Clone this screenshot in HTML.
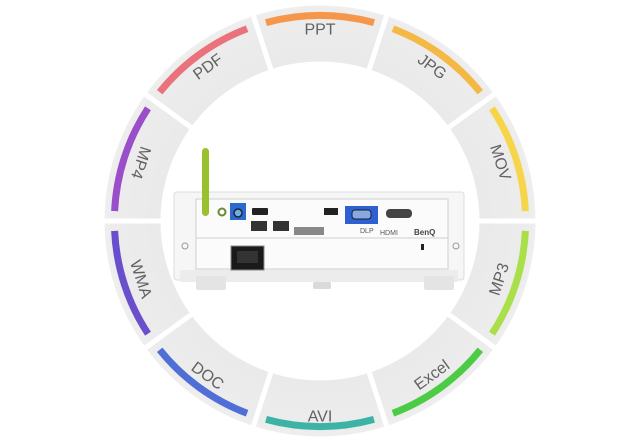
<!DOCTYPE html>
<html><head><meta charset="utf-8"><style>
html,body{margin:0;padding:0;background:#fff;width:640px;height:448px;overflow:hidden}
svg{display:block}
text{font-family:"Liberation Sans",sans-serif;font-size:16px;fill:#626262}
</style></head><body>
<svg width="640" height="448" viewBox="0 0 640 448">
<defs>
<radialGradient id="sg" cx="320" cy="221" r="218" gradientUnits="userSpaceOnUse">
<stop offset="0.72" stop-color="#eaeaea"/><stop offset="0.95" stop-color="#ececec"/><stop offset="1" stop-color="#efefef"/>
</radialGradient>
<g id="seg">
<path d="M271.5,71.7 L252.6,13.7 A218 218 0 0 1 387.4,13.7 L368.5,71.7 A157 157 0 0 0 271.5,71.7Z" fill="url(#sg)" stroke="#fff" stroke-width="5"/>
</g>
<path id="st" d="M270.4,22.6 A205 205 0 0 1 369.6,22.6" fill="none" stroke-width="7"/>
</defs>
<g>
<use href="#seg"/>
<use href="#seg" transform="rotate(36 320 221)"/>
<use href="#seg" transform="rotate(72 320 221)"/>
<use href="#seg" transform="rotate(108 320 221)"/>
<use href="#seg" transform="rotate(144 320 221)"/>
<use href="#seg" transform="rotate(180 320 221)"/>
<use href="#seg" transform="rotate(216 320 221)"/>
<use href="#seg" transform="rotate(252 320 221)"/>
<use href="#seg" transform="rotate(288 320 221)"/>
<use href="#seg" transform="rotate(324 320 221)"/>
</g>
<g fill="none" stroke-width="7">
<path d="M266,22.6 A205 205 0 0 1 374,22.6" stroke="#f5964a"/>
<path d="M266,22.6 A205 205 0 0 1 374,22.6" stroke="#f4b845" transform="rotate(36 320 221)"/>
<path d="M266,22.6 A205 205 0 0 1 374,22.6" stroke="#f7d54a" transform="rotate(72 320 221)"/>
<path d="M266,22.6 A205 205 0 0 1 374,22.6" stroke="#a9e04a" transform="rotate(108 320 221)"/>
<path d="M266,22.6 A205 205 0 0 1 374,22.6" stroke="#4ccb45" transform="rotate(144 320 221)"/>
<path d="M266,22.6 A205 205 0 0 1 374,22.6" stroke="#3db3a6" transform="rotate(180 320 221)"/>
<path d="M266,22.6 A205 205 0 0 1 374,22.6" stroke="#4f6fd6" transform="rotate(216 320 221)"/>
<path d="M266,22.6 A205 205 0 0 1 374,22.6" stroke="#6a4fcd" transform="rotate(252 320 221)"/>
<path d="M266,22.6 A205 205 0 0 1 374,22.6" stroke="#9a4ec9" transform="rotate(288 320 221)"/>
<path d="M266,22.6 A205 205 0 0 1 374,22.6" stroke="#e9727c" transform="rotate(324 320 221)"/>
</g>
<g text-anchor="middle" dominant-baseline="central">
<g transform="rotate(0 320 221)"><text x="320" y="30">PPT</text></g>
<g transform="rotate(36 320 221)"><text x="320" y="31">JPG</text></g>
<g transform="rotate(72 320 221)"><text x="320" y="32">MOV</text></g>
<g transform="rotate(108 320 221)"><text x="320" y="32" transform="rotate(180 320 32)">MP3</text></g>
<g transform="rotate(144 320 221)"><text x="320" y="30" transform="rotate(180 320 30)">Excel</text></g>
<g transform="rotate(180 320 221)"><text x="320" y="25" transform="rotate(180 320 25)">AVI</text></g>
<g transform="rotate(216 320 221)"><text x="320" y="29" transform="rotate(180 320 29)">DOC</text></g>
<g transform="rotate(252 320 221)"><text x="320" y="32" transform="rotate(180 320 32)">WMA</text></g>
<g transform="rotate(288 320 221)"><text x="320" y="32" transform="rotate(180 320 32)">MP4</text></g>
<g transform="rotate(324 320 221)"><text x="320" y="31">PDF</text></g>
</g>
<!-- projector -->
<g>
<rect x="174" y="192" width="290" height="88" rx="3" fill="#f6f6f6" stroke="#dcdcdc"/>
<rect x="196" y="199" width="252" height="70" fill="#fbfbfb" stroke="#cfcfcf"/>
<line x1="196" y1="238" x2="448" y2="238" stroke="#cfcfcf"/>
<rect x="180" y="270" width="278" height="12" fill="#ececec"/>
<rect x="196" y="276" width="30" height="14" rx="2" fill="#e4e4e4"/>
<rect x="424" y="276" width="30" height="14" rx="2" fill="#e4e4e4"/>
<rect x="313" y="282" width="18" height="7" rx="2" fill="#dadada"/>
<circle cx="185" cy="246" r="3" fill="none" stroke="#999"/>
<circle cx="456" cy="246" r="3" fill="none" stroke="#999"/>
<rect x="202" y="148" width="7" height="68" rx="3.5" fill="#9ac030"/>
<circle cx="222" cy="212" r="3.5" fill="#fff" stroke="#6a8a30" stroke-width="2"/>
<rect x="230" y="203" width="16" height="17" fill="#2a6ad0"/>
<circle cx="238" cy="213" r="4" fill="#6ab0e0" stroke="#223" stroke-width="1.5"/>
<rect x="252" y="208" width="16" height="7" rx="1" fill="#222"/>
<rect x="251" y="221" width="16" height="10" fill="#333"/>
<rect x="273" y="221" width="16" height="10" fill="#333"/>
<rect x="294" y="227" width="30" height="8" fill="#888"/>
<rect x="324" y="208" width="14" height="7" fill="#222"/>
<rect x="345" y="206" width="33" height="18" fill="#2f5fd0"/>
<rect x="352" y="210" width="19" height="9" rx="3" fill="#8aa8e0" stroke="#123"/>
<rect x="386" y="209" width="26" height="9" rx="4" fill="#444"/>
<text x="360" y="233" style="font-size:7px;fill:#555">DLP</text>
<text x="380" y="235" style="font-size:7px;fill:#555">HDMI</text>
<text x="414" y="235" style="font-size:8px;fill:#444;font-weight:bold">BenQ</text>
<rect x="421" y="244" width="3" height="6" fill="#222"/>
<rect x="231" y="246" width="33" height="24" fill="#1a1a1a" stroke="#888"/>
<rect x="237" y="251" width="21" height="12" fill="#333"/>
</g>
</svg>
</body></html>
